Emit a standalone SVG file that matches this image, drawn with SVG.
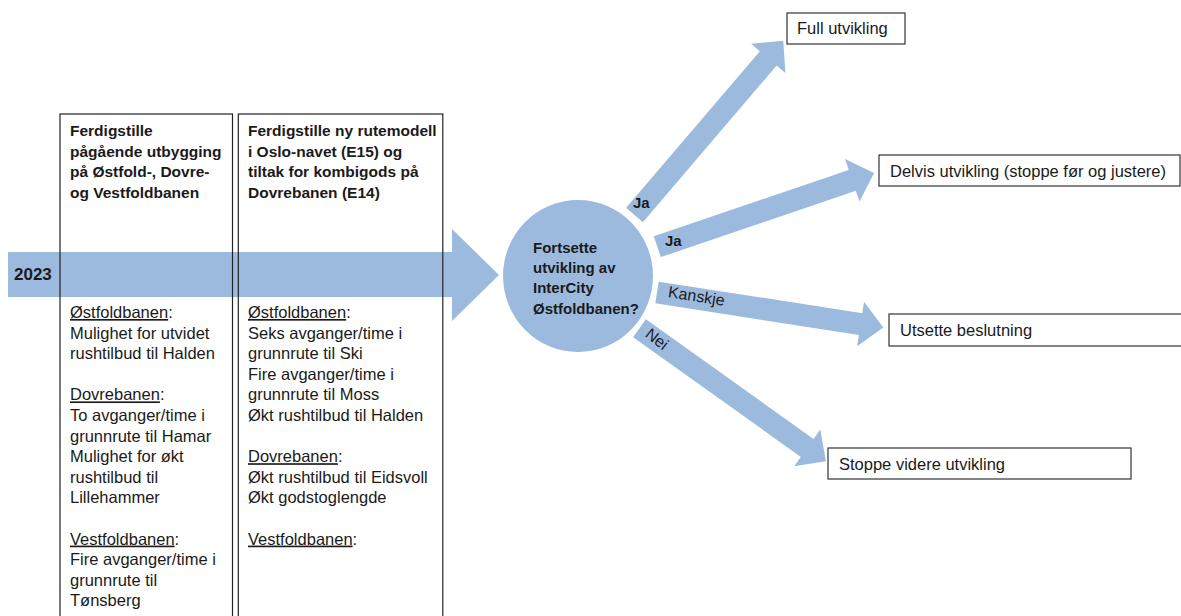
<svg xmlns="http://www.w3.org/2000/svg" xmlns:xlink="http://www.w3.org/1999/xlink" width="1181" height="616" viewBox="0 0 1181 616">
<style>
text{font-family:"Liberation Sans",Arial,sans-serif;fill:#1a1a1a}
.b{font-weight:bold;font-size:15.5px}
.c{font-weight:bold;font-size:15px}
.t{font-size:16.5px}
.u{text-decoration:underline}
.lbl{font-size:16px}
.yr{font-weight:bold;font-size:17px}
.box{fill:none;stroke:#222;stroke-width:1.2}
.rbox{fill:#fff;stroke:#333;stroke-width:1.2}
.arr{fill:#9cbade}
</style>
<defs>
<path id="barrow" d="M0,-11 H206 V-22.5 L229,0 L206,22.5 V11 H0 Z"/>
</defs>
<rect width="1181" height="616" fill="#fff"/>
<g id="connectors">
<polygon class="arr" points="8,252 452,252 452,229 499,275 452,321 452,297 8,297"/>
<use xlink:href="#barrow" class="arr" transform="translate(634.5,215) rotate(-49.5)"/>
<use xlink:href="#barrow" class="arr" transform="translate(657.3,246.7) rotate(-18.8)"/>
<use xlink:href="#barrow" class="arr" transform="translate(657,292.5) rotate(8.8)"/>
<use xlink:href="#barrow" class="arr" transform="translate(639.5,328.3) rotate(35.5)"/>
<text class="c" x="633" y="208">Ja</text>
<text class="c" x="665" y="246">Ja</text>
<text class="lbl" transform="translate(696.5,296) rotate(9)" text-anchor="middle" dy="5.5">Kanskje</text>
<text class="lbl" transform="translate(657,339) rotate(38)" text-anchor="middle" dy="5.5">Nei</text>
</g>
<g id="year">
<text class="yr" x="14" y="280">2023</text>
</g>
<g id="box1">
<rect class="box" x="60" y="114" width="172.5" height="520"/>
<text class="b" x="70" y="136">Ferdigstille</text>
<text class="b" x="70" y="156.5">pågående utbygging</text>
<text class="b" x="70" y="177">på Østfold-, Dovre-</text>
<text class="b" x="70" y="197.5">og Vestfoldbanen</text>
<text class="t" x="70" y="318"><tspan class="u">Østfoldbanen</tspan>:</text>
<text class="t" x="70" y="338.6">Mulighet for utvidet</text>
<text class="t" x="70" y="359.2">rushtilbud til Halden</text>
<text class="t" x="70" y="400.4"><tspan class="u">Dovrebanen</tspan>:</text>
<text class="t" x="70" y="421">To avganger/time i</text>
<text class="t" x="70" y="441.6">grunnrute til Hamar</text>
<text class="t" x="70" y="462.2">Mulighet for økt</text>
<text class="t" x="70" y="482.8">rushtilbud til</text>
<text class="t" x="70" y="503.4">Lillehammer</text>
<text class="t" x="70" y="544.6"><tspan class="u">Vestfoldbanen</tspan>:</text>
<text class="t" x="70" y="565.2">Fire avganger/time i</text>
<text class="t" x="70" y="585.8">grunnrute til</text>
<text class="t" x="70" y="606.4">Tønsberg</text>
</g>
<g id="box2">
<rect class="box" x="238.3" y="114" width="204.5" height="520"/>
<text class="b" x="248" y="136">Ferdigstille ny rutemodell</text>
<text class="b" x="248" y="156.5">i Oslo-navet (E15) og</text>
<text class="b" x="248" y="177">tiltak for kombigods på</text>
<text class="b" x="248" y="197.5">Dovrebanen (E14)</text>
<text class="t" x="248" y="318"><tspan class="u">Østfoldbanen</tspan>:</text>
<text class="t" x="248" y="338.6">Seks avganger/time i</text>
<text class="t" x="248" y="359.2">grunnrute til Ski</text>
<text class="t" x="248" y="379.8">Fire avganger/time i</text>
<text class="t" x="248" y="400.4">grunnrute til Moss</text>
<text class="t" x="248" y="421">Økt rushtilbud til Halden</text>
<text class="t" x="248" y="462.2"><tspan class="u">Dovrebanen</tspan>:</text>
<text class="t" x="248" y="482.8">Økt rushtilbud til Eidsvoll</text>
<text class="t" x="248" y="503.4">Økt godstoglengde</text>
<text class="t" x="248" y="544.6"><tspan class="u">Vestfoldbanen</tspan>:</text>
</g>
<g id="decision">
<ellipse class="arr" cx="578" cy="276" rx="75" ry="76"/>
<text class="c" x="533" y="252.5">Fortsette</text>
<text class="c" x="533" y="273">utvikling av</text>
<text class="c" x="533" y="293.3">InterCity</text>
<text class="c" x="533" y="313.5">Østfoldbanen?</text>
</g>
<g id="full">
<rect class="rbox" x="787" y="13" width="118" height="31"/>
<text class="t" x="797" y="34">Full utvikling</text>
</g>
<g id="delvis">
<rect class="rbox" x="879" y="155" width="301" height="31"/>
<text class="t" x="890" y="177">Delvis utvikling (stoppe før og justere)</text>
</g>
<g id="utsette">
<rect class="rbox" x="889" y="314" width="300" height="32"/>
<text class="t" x="900" y="336">Utsette beslutning</text>
</g>
<g id="stoppe">
<rect class="rbox" x="828" y="448" width="303" height="31"/>
<text class="t" x="839" y="469.5">Stoppe videre utvikling</text>
</g>
</svg>
